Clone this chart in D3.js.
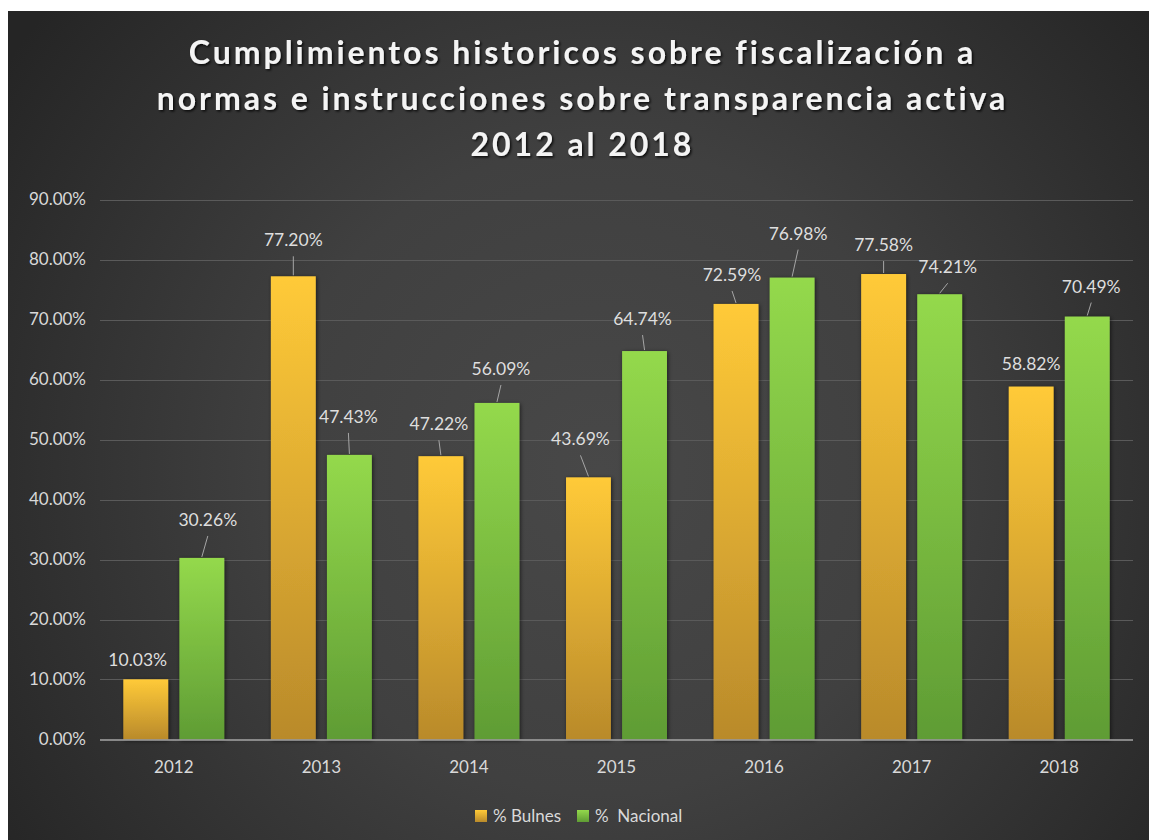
<!DOCTYPE html>
<meta charset="utf-8">
<style>
  body {
    margin: 0;
    background-color: #fff;
  }

  text {
    font-family: Lato, "Noto Sans", sans-serif;
  }

  .grid line {
    stroke: #5a5a5a;
    stroke-width: 1px;
  }

  .tick-label {
    fill: #d9d9d9;
    font-size: 17px;
  }

  .value {
    fill: #dedede;
    font-size: 17.5px;
    text-anchor: middle;
  }

  .leader {
    stroke: #a6a6a6;
    stroke-width: 1px;
  }

  .title {
    fill: #f4f4f4;
    font-size: 32px;
    font-weight: bold;
    text-anchor: middle;
  }

  .legend text {
    fill: #d9d9d9;
    font-size: 17px;
    white-space: pre;
  }
</style>
<svg width="1149" height="840"></svg>
<script src="https://d3js.org/d3.v7.min.js"></script>
<script>
  // data
  var years = ["2012", "2013", "2014", "2015", "2016", "2017", "2018"];
  var seriesNames = ["% Bulnes", "%  Nacional"];
  var bulnes = [10.03, 77.20, 47.22, 43.69, 72.59, 77.58, 58.82];
  var nacional = [30.26, 47.43, 56.09, 64.74, 76.98, 74.21, 70.49];
  var yTicks = [0, 10, 20, 30, 40, 50, 60, 70, 80, 90];
  var titleLines = [
    "Cumplimientos historicos sobre fiscalización a",
    "normas e instrucciones sobre transparencia activa",
    "2012 al 2018"
  ];

  // label nudges (dx, dy from bar top centre), as placed by hand in the original
  var nudgeBulnes = [[-8, -13], [0, -30], [-2, -26], [-8, -32], [-4, -23], [0, -23], [0, -17]];
  var nudgeNacional = [[6, -32], [-1, -32], [4, -28], [-2, -26], [6, -38], [8, -21], [4, -24]];

  var svg = d3.select("svg"),
    width = +svg.attr("width"),
    height = +svg.attr("height");

  var defs = svg.append("defs");

  var bg = defs.append("radialGradient")
    .attr("id", "bg")
    .attr("gradientUnits", "userSpaceOnUse")
    .attr("cx", 600).attr("cy", 470).attr("r", 720);
  bg.append("stop").attr("offset", "0%").attr("stop-color", "#484848");
  bg.append("stop").attr("offset", "45%").attr("stop-color", "#404040");
  bg.append("stop").attr("offset", "100%").attr("stop-color", "#252525");

  function barGradient(id, top, bottom) {
    var g = defs.append("linearGradient")
      .attr("id", id)
      .attr("x1", 0).attr("y1", 0).attr("x2", 0).attr("y2", 1);
    g.append("stop").attr("offset", "0%").attr("stop-color", top);
    g.append("stop").attr("offset", "100%").attr("stop-color", bottom);
  }
  barGradient("gold", "#ffca38", "#b98a2b");
  barGradient("green", "#94d94c", "#5f9c34");

  var shadow = defs.append("filter").attr("id", "shadow")
    .attr("x", "-20%").attr("y", "-10%").attr("width", "140%").attr("height", "120%");
  shadow.append("feDropShadow")
    .attr("dx", 1).attr("dy", 1).attr("stdDeviation", 2)
    .attr("flood-color", "#000").attr("flood-opacity", 0.6);

  var tshadow = defs.append("filter").attr("id", "tshadow");
  tshadow.append("feDropShadow")
    .attr("dx", 1.5).attr("dy", 1.5).attr("stdDeviation", 1.2)
    .attr("flood-color", "#000").attr("flood-opacity", 0.8);

  // chart area
  svg.append("rect")
    .attr("x", 8).attr("y", 11)
    .attr("width", width - 8).attr("height", height - 11)
    .attr("fill", "url(#bg)");

  var x0 = d3.scaleBand()
    .domain(years)
    .range([100, 1133])
    .paddingInner(0.316)
    .paddingOuter(0.158);

  var x1 = d3.scaleBand()
    .domain(seriesNames)
    .range([0, x0.bandwidth()])
    .paddingInner(0.2);

  var y = d3.scaleLinear()
    .domain([0, 90])
    .range([739.5, 199.5]);

  var fmt = function(v) { return d3.format(".2f")(v) + "%"; };

  // grid + y labels
  var grid = svg.append("g").attr("class", "grid");
  grid.selectAll("line")
    .data(yTicks.filter(function(d) { return d > 0; }))
    .enter().append("line")
    .attr("x1", 100).attr("x2", 1133)
    .attr("y1", function(d) { return Math.round(y(d)) + 0.5; })
    .attr("y2", function(d) { return Math.round(y(d)) + 0.5; });

  svg.append("g").selectAll("text")
    .data(yTicks)
    .enter().append("text")
    .attr("class", "tick-label")
    .attr("x", 86)
    .attr("y", function(d) { return y(d); })
    .attr("dy", "0.35em")
    .attr("text-anchor", "end")
    .text(fmt);

  // bars
  var series = [
    { name: seriesNames[0], values: bulnes, fill: "url(#gold)", nudge: nudgeBulnes },
    { name: seriesNames[1], values: nacional, fill: "url(#green)", nudge: nudgeNacional }
  ];

  var rows = [];
  series.forEach(function(s) {
    s.values.forEach(function(v, i) {
      rows.push({ year: years[i], value: v, s: s, nudge: s.nudge[i] });
    });
  });

  var bars = svg.append("g").attr("filter", "url(#shadow)");
  bars.selectAll("rect")
    .data(rows)
    .enter().append("rect")
    .attr("x", function(d) { return x0(d.year) + x1(d.s.name); })
    .attr("y", function(d) { return y(d.value); })
    .attr("width", x1.bandwidth())
    .attr("height", function(d) { return y(0) - y(d.value); })
    .attr("fill", function(d) { return d.s.fill; });

  // x axis line
  svg.append("line")
    .attr("x1", 100).attr("x2", 1133)
    .attr("y1", 740).attr("y2", 740)
    .attr("stroke", "#a6a6a6")
    .attr("stroke-width", 1.5);

  svg.append("g").selectAll("text")
    .data(years)
    .enter().append("text")
    .attr("class", "tick-label")
    .attr("x", function(d) { return x0(d) + x0.bandwidth() / 2; })
    .attr("y", 773)
    .attr("text-anchor", "middle")
    .text(function(d) { return d; });

  // data labels with leader lines
  function cx(d) { return x0(d.year) + x1(d.s.name) + x1.bandwidth() / 2; }

  var labels = svg.append("g");
  labels.selectAll("line")
    .data(rows.filter(function(d) { return d.nudge[1] < -20; }))
    .enter().append("line")
    .attr("class", "leader")
    .attr("x1", cx)
    .attr("y1", function(d) { return y(d.value) - 1; })
    .attr("x2", function(d) { return cx(d) + d.nudge[0]; })
    .attr("y2", function(d) { return y(d.value) + d.nudge[1] + 10; });

  labels.selectAll("text")
    .data(rows)
    .enter().append("text")
    .attr("class", "value")
    .attr("x", function(d) { return cx(d) + d.nudge[0]; })
    .attr("y", function(d) { return y(d.value) + d.nudge[1]; })
    .text(function(d) { return fmt(d.value); });

  // title
  var title = svg.append("g").attr("filter", "url(#tshadow)");
  var tl = title.selectAll("text")
    .data(titleLines)
    .enter().append("text")
    .attr("class", "title")
    .attr("x", 581)
    .attr("y", function(d, i) { return 64 + i * 46; })
    .text(function(d) { return d; });

  // spread letters so the middle line spans the same width as in the original
  var natural = tl.nodes()[1].getComputedTextLength();
  var spacing = (852 - natural) / titleLines[1].length;
  tl.style("letter-spacing", spacing + "px")
    .attr("dx", spacing / 2);

  // legend
  var legend = svg.append("g").attr("class", "legend");
  var lx = [475, 577];
  series.forEach(function(s, i) {
    legend.append("rect")
      .attr("x", lx[i]).attr("y", 810)
      .attr("width", 12).attr("height", 12)
      .attr("fill", s.fill);
    legend.append("text")
      .attr("x", lx[i] + 18).attr("y", 816)
      .attr("dy", "0.35em")
      .text(s.name);
  });
</script>
